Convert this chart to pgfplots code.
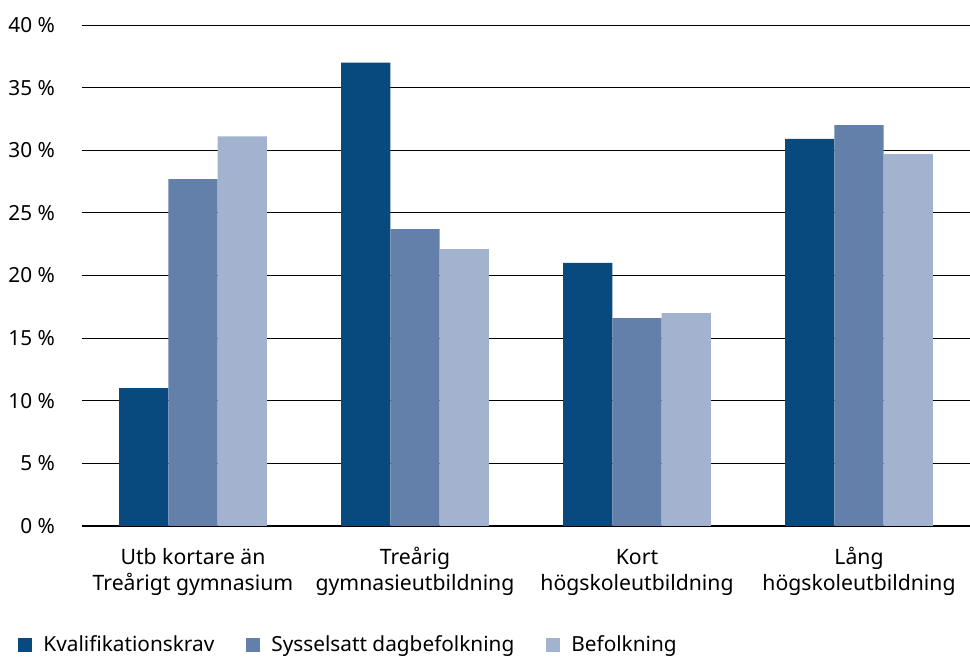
\documentclass[border=0pt]{standalone}
\usepackage{pgfplots}
\pgfplotsset{compat=1.18}
\usepackage{fontspec}
\setmainfont{Noto Sans}
\definecolor{cA}{RGB}{8,74,126}
\definecolor{cB}{RGB}{99,128,171}
\definecolor{cC}{RGB}{163,178,207}
\begin{document}
\begin{tikzpicture}
\useasboundingbox (-41pt,-65.5pt) rectangle (444pt,263pt);
\begin{axis}[
  scale only axis,
  width=444pt, height=250.5pt,
  at={(0,0)}, anchor=south west,
  ybar=0pt, bar width=24.65pt,
  xmin=-0.5, xmax=3.5,
  ymin=0, ymax=40,
  ytick={0,5,...,40},
  xtick=data,
  xticklabels={{\strut Utb kortare än\\\strut Treårigt gymnasium},{\strut Treårig\\\strut gymnasieutbildning},{\strut Kort\\\strut högskoleutbildning},{\strut Lång\\\strut högskoleutbildning}},
  axis x line*=bottom,
  axis y line*=left,
  y axis line style={draw=none},
  x axis line style={line width=1pt},
  ymajorgrids,
  grid style={black, line width=0.5pt},
  major tick length=0pt,
  tick style={draw=none},
  font=\fontsize{10.4}{12.5}\selectfont,
  /pgf/number format/assume math mode=true,
  yticklabel={\pgfmathprintnumber{\tick}~\%},
  yticklabel style={anchor=east, xshift=-10pt},
  xticklabel style={align=center, yshift=-6.5pt, font=\fontsize{10.6}{13}\selectfont},
  legend columns=3,
  legend style={draw=none, fill=none, at={(rel axis cs:-0.072,-0.2375)}, anchor=west, inner xsep=0pt, inner ysep=0pt,
    font=\fontsize{10.4}{12.5}\selectfont,
    /tikz/every even column/.append style={column sep=14pt}},
  legend image code/.code={\fill[#1] (0pt,-3.5pt) rectangle (7pt,3.5pt); \path (10.5pt,0pt);},
]
\addplot[fill=cA, draw=none] coordinates {(0,11.0) (1,37.0) (2,21.0) (3,30.9)};
\addplot[fill=cB, draw=none] coordinates {(0,27.7) (1,23.7) (2,16.6) (3,32.0)};
\addplot[fill=cC, draw=none] coordinates {(0,31.1) (1,22.1) (2,17.0) (3,29.7)};
\legend{Kvalifikationskrav, Sysselsatt dagbefolkning, Befolkning}
\end{axis}
\end{tikzpicture}
\end{document}
